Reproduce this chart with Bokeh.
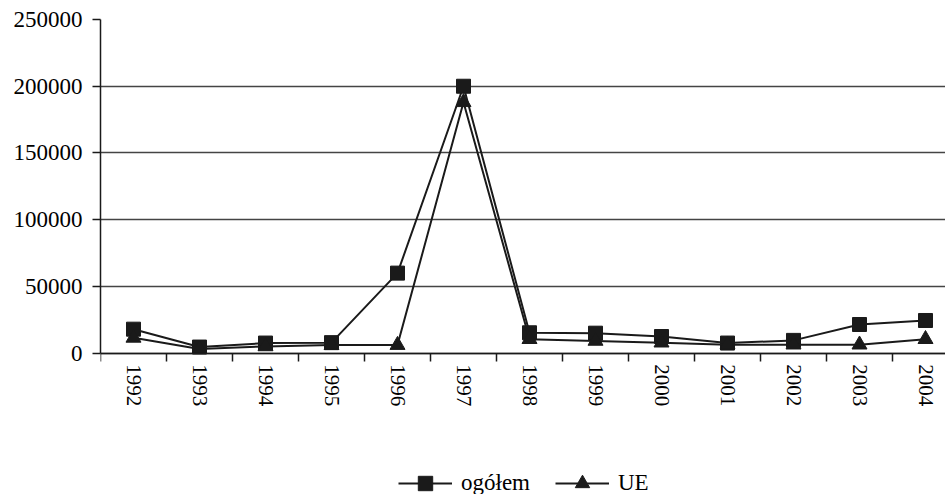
from bokeh.plotting import figure
from bokeh.models import FixedTicker, Range1d, Legend, LegendItem, NumeralTickFormatter, LinearAxis
from bokeh.embed import file_html
from bokeh.resources import INLINE

years = [1992, 1993, 1994, 1995, 1996, 1997, 1998, 1999, 2000, 2001, 2002, 2003, 2004]
ogolem = [18000, 4600, 7600, 7900, 60000, 200000, 15300, 15000, 12500, 7600, 9600, 21500, 24500]
ue = [11500, 3100, 5100, 6100, 6100, 188000, 10500, 9200, 7900, 6400, 6400, 6400, 10500]
y_ticks = [0, 50000, 100000, 150000, 200000, 250000]
series_names = ["ogółem", "UE"]

FONT = "serif"
INK = "#1a1a1a"
W, H = 945, 494
LEFT, TOP = 100, 19
ZERO_PX = 352.7          # page y of the value axis origin
CAT_PX = 66
frame_w = W - LEFT
px_per_unit = (ZERO_PX - TOP) / y_ticks[-1]
y_start = -(H - ZERO_PX) / px_per_unit

p = figure(width=W, height=H, output_backend="svg", toolbar_location=None,
           x_range=Range1d(years[0] - 0.5, years[0] - 0.5 + frame_w / CAT_PX),
           y_range=Range1d(y_start, y_ticks[-1]),
           x_axis_location=None,
           min_border_left=LEFT, min_border_right=0, min_border_top=TOP,
           min_border_bottom=0)
p.outline_line_color = None
p.background_fill_color = "white"
p.border_fill_color = "white"

l1 = p.line(years, ogolem, line_color=INK, line_width=2)
s1 = p.scatter(years, ogolem, marker="square", size=14, fill_color=INK, line_color=INK)
l2 = p.line(years, ue, line_color=INK, line_width=2)
s2 = p.scatter(years, ue, marker="triangle", size=15, fill_color=INK, line_color=INK)

# x axis fixed at value 0: labels at centres, tick marks at category boundaries
xaxis = LinearAxis(fixed_location=0)
xaxis.ticker = FixedTicker(ticks=years, minor_ticks=[y - 0.5 for y in years] + [years[-1] + 0.5])
xaxis.major_label_overrides = {y: str(y) for y in years}
xaxis.major_tick_out = 0
xaxis.major_tick_in = 0
xaxis.minor_tick_out = 8
xaxis.minor_tick_in = 0
xaxis.minor_tick_line_color = INK
xaxis.minor_tick_line_width = 1.5
xaxis.major_label_orientation = "vertical"
xaxis.major_label_standoff = 3
xaxis.axis_line_color = INK
xaxis.axis_line_width = 1.5
xaxis.major_label_text_font = FONT
xaxis.major_label_text_font_size = "21px"
xaxis.major_label_text_color = "black"
p.add_layout(xaxis, "below")

p.yaxis.ticker = FixedTicker(ticks=y_ticks)
p.yaxis.bounds = (y_ticks[0], y_ticks[-1])
p.yaxis.formatter = NumeralTickFormatter(format="0")
p.yaxis.major_tick_out = 8
p.yaxis.major_tick_in = 0
p.yaxis.minor_tick_line_color = None
p.yaxis.major_tick_line_color = INK
p.yaxis.major_tick_line_width = 1.5
p.yaxis.axis_line_color = INK
p.yaxis.axis_line_width = 1.5
p.yaxis.major_label_standoff = 10
p.yaxis.major_label_text_font = FONT
p.yaxis.major_label_text_font_size = "23px"
p.yaxis.major_label_text_color = "black"

p.xgrid.grid_line_color = None
p.ygrid.ticker = FixedTicker(ticks=y_ticks)
p.ygrid.grid_line_color = "#444444"
p.ygrid.grid_line_width = 1.5

legend = Legend(items=[LegendItem(label=series_names[0], renderers=[l1, s1]),
                       LegendItem(label=series_names[1], renderers=[l2, s2])],
                location=(298, -7), orientation="horizontal",
                glyph_width=54, glyph_height=36, label_standoff=9, spacing=25,
                padding=0, margin=0, border_line_color=None, background_fill_alpha=0,
                label_text_font=FONT, label_text_font_size="23px", label_text_color="black")
p.add_layout(legend)

open("out.html", "w").write(file_html(p, INLINE))
